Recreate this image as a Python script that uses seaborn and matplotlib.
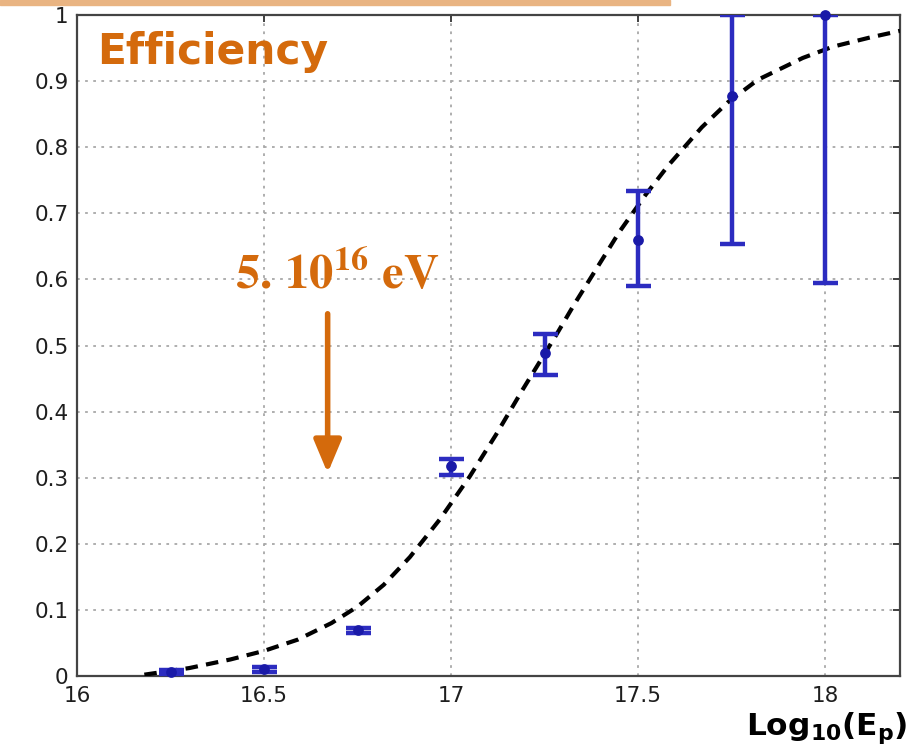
import matplotlib
matplotlib.use("Agg")
import matplotlib.pyplot as plt
from matplotlib.patches import Rectangle
import seaborn as sns

# Measured trigger efficiency per energy bin
energy = [16.25, 16.5, 16.75, 17.0, 17.25, 17.5, 17.75, 18.0]
efficiency = [0.006, 0.010, 0.069, 0.317, 0.488, 0.660, 0.878, 1.0]
err_low = [0.003, 0.004, 0.004, 0.013, 0.032, 0.070, 0.224, 0.405]
err_high = [0.003, 0.004, 0.004, 0.012, 0.030, 0.074, 0.122, 0.0]

# Fitted efficiency curve
fit_x = [16.18, 16.30, 16.41, 16.50, 16.59, 16.68, 16.75, 16.82, 16.89,
         16.97, 17.05, 17.12, 17.19, 17.28, 17.33, 17.45, 17.52, 17.58,
         17.67, 17.74, 17.82, 17.94, 18.02, 18.12, 18.20]
fit_y = [0.002, 0.012, 0.025, 0.038, 0.055, 0.080, 0.105, 0.138, 0.180,
         0.237, 0.302, 0.365, 0.432, 0.515, 0.563, 0.672, 0.728, 0.772,
         0.830, 0.868, 0.902, 0.935, 0.952, 0.966, 0.976]

x_ticks = [16, 16.5, 17, 17.5, 18]
x_tick_labels = ["16", "16.5", "17", "17.5", "18"]
y_ticks = [0, 0.1, 0.2, 0.3, 0.4, 0.5, 0.6, 0.7, 0.8, 0.9, 1.0]
y_tick_labels = ["0", "0.1", "0.2", "0.3", "0.4", "0.5", "0.6", "0.7", "0.8", "0.9", "1"]

threshold_x = 16.67
orange = "#D46A0C"
blue = "#2c2cc0"

sns.set_theme(style="white")
plt.rcParams["font.family"] = ["DejaVu Sans"]

fig = plt.figure(figsize=(9.13, 7.48), dpi=100)
ax = fig.add_axes([77 / 913, 72 / 748, 823 / 913, 661 / 748])

# dotted grid
ax.set_axisbelow(True)
ax.grid(True, color="#a8a8a8", linestyle=(0, (1.5, 3)), linewidth=1.3)

# fit curve
sns.lineplot(x=fit_x, y=fit_y, ax=ax, color="black", linewidth=3,
             sort=False, errorbar=None, zorder=3)
ax.lines[-1].set_dashes((3, 2))

# measured points with asymmetric errors
ax.errorbar(energy, efficiency, yerr=[err_low, err_high], fmt="none",
            ecolor=blue, elinewidth=3.2, capsize=9, capthick=3.2, zorder=4)
sns.scatterplot(x=energy, y=efficiency, ax=ax, color="#1a1aa8", s=60,
                edgecolor="#1a1aa8", linewidth=0, zorder=5, clip_on=False)

ax.set_xlim(16, 18.2)
ax.set_ylim(0, 1)
ax.set_xticks(x_ticks)
ax.set_xticklabels(x_tick_labels)
ax.set_yticks(y_ticks)
ax.set_yticklabels(y_tick_labels)
ax.tick_params(direction="in", length=5, width=1.3, color="#333333",
               top=True, right=True, labelsize=15.5, labelcolor="#1e1e1e")
ax.tick_params(axis="x", pad=7)
ax.tick_params(axis="y", pad=6)
for s in ax.spines.values():
    s.set_color("#444444")
    s.set_linewidth(1.6)
ax.set_xlabel("")
ax.set_ylabel("")

# titles and annotations
ax.text(16.053, 0.926, "Efficiency", color=orange, fontsize=30.5,
        fontweight="bold", ha="left", va="baseline")
ax.text(16.422, 0.586, r"$\mathbf{5.\,10^{16}\ eV}$", color=orange,
        fontsize=35, math_fontfamily="stix", ha="left", va="baseline")
ax.annotate("", xy=(threshold_x, 0.307), xytext=(threshold_x, 0.548),
            arrowprops=dict(arrowstyle="-|>,head_length=1.0,head_width=0.42",
                            color=orange, lw=4, mutation_scale=20,
                            shrinkA=0, shrinkB=0))

fig.text(907 / 913, 13 / 748, r"$\mathbf{Log_{10}(E_p)}$", fontsize=22.5,
         math_fontfamily="dejavusans", ha="right", va="baseline", color="black",
         bbox=dict(facecolor="white", edgecolor="none", alpha=0.75, pad=2))

# decorative band along the top edge
fig.patches.append(Rectangle((0, 1 - 5 / 748), 670 / 913, 5 / 748,
                             transform=fig.transFigure, color="#E9B482",
                             zorder=10))

fig.savefig("out.png", dpi=100, facecolor="white")
